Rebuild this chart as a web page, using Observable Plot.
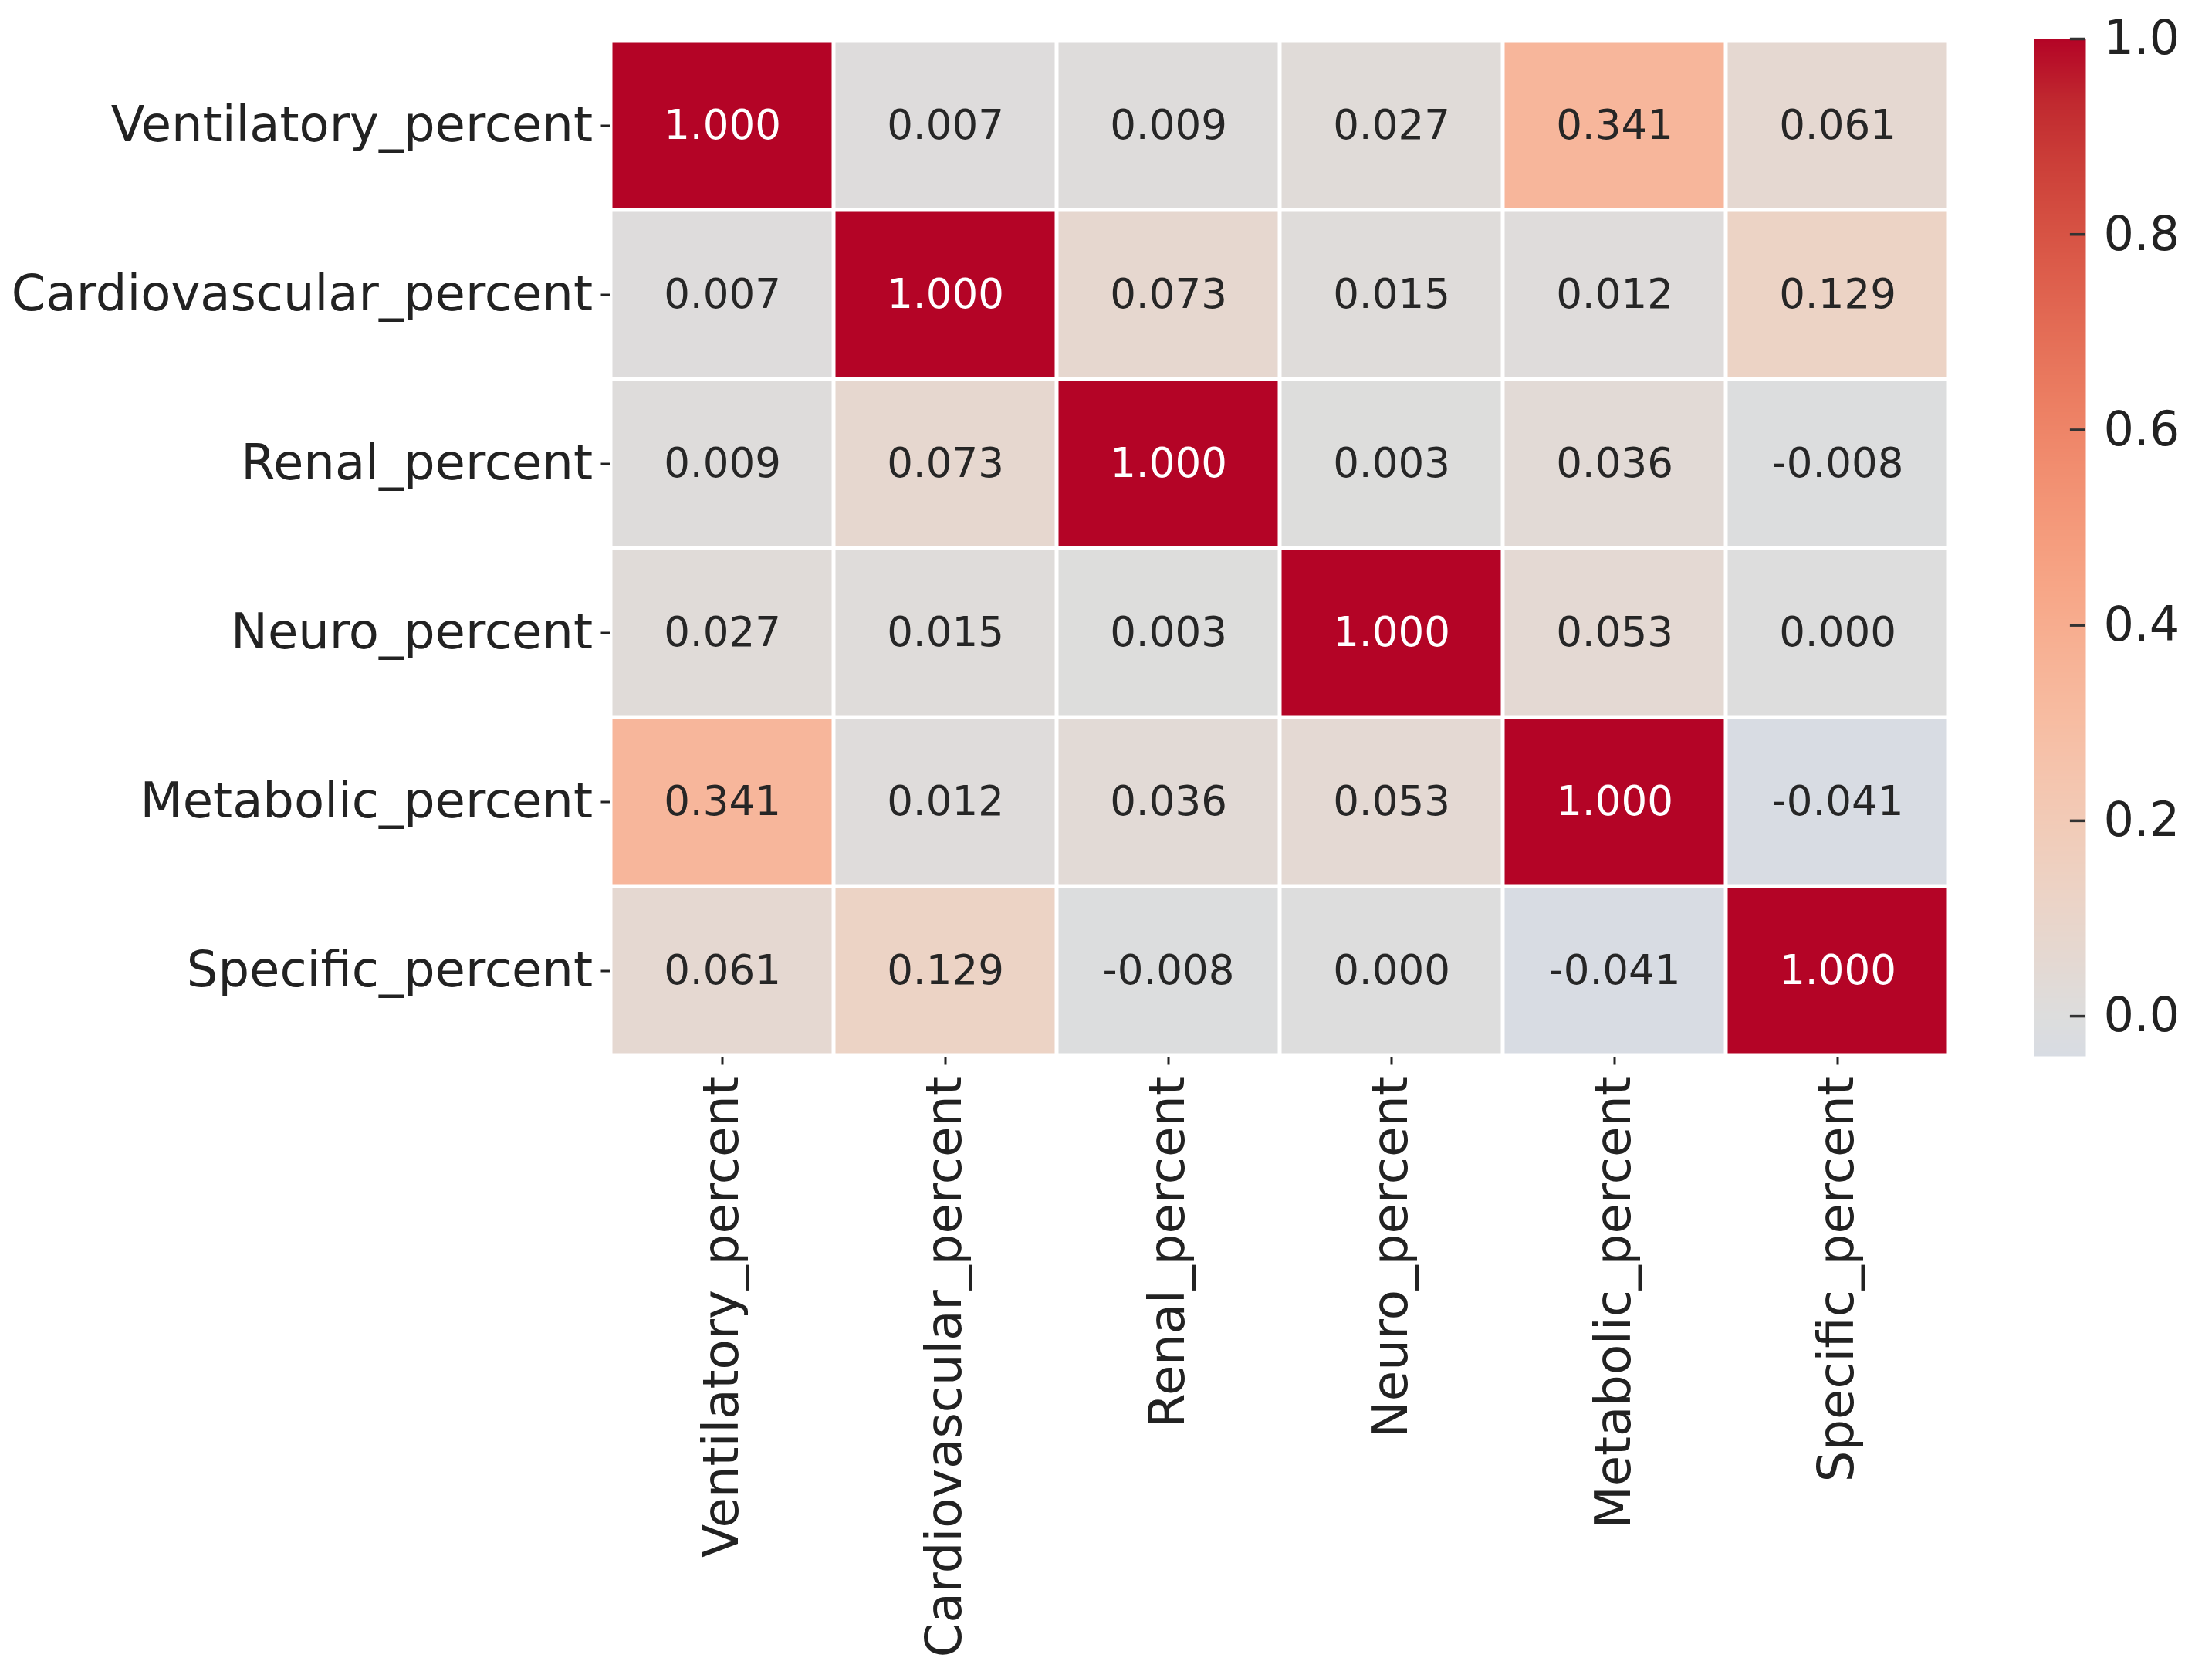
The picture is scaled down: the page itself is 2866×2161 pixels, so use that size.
<!DOCTYPE html>
<html>
<head>
<meta charset="utf-8">
<script src="https://cdn.jsdelivr.net/npm/d3@7"></script>
<script src="https://cdn.jsdelivr.net/npm/@observablehq/plot@0.6"></script>
<style>
html, body { margin: 0; padding: 0; background: #fff; }
#wrap { position: relative; width: 2866px; height: 2161px; overflow: hidden; background: #fff; }
#main { position: absolute; left: 0; top: 0; }
#bar { position: absolute; left: 2600px; top: 0; }
</style>
</head>
<body>
<div id="wrap"><div id="main"></div><div id="bar"></div></div>
<script>
// ---- data ----
const variables = [
  "Ventilatory_percent",
  "Cardiovascular_percent",
  "Renal_percent",
  "Neuro_percent",
  "Metabolic_percent",
  "Specific_percent"
];
const rowVentilatory    = [1.000, 0.007, 0.009, 0.027, 0.341, 0.061];
const rowCardiovascular = [0.007, 1.000, 0.073, 0.015, 0.012, 0.129];
const rowRenal          = [0.009, 0.073, 1.000, 0.003, 0.036, -0.008];
const rowNeuro          = [0.027, 0.015, 0.003, 1.000, 0.053, 0.000];
const rowMetabolic      = [0.341, 0.012, 0.036, 0.053, 1.000, -0.041];
const rowSpecific       = [0.061, 0.129, -0.008, 0.000, -0.041, 1.000];
const colorbarTicks = [0.0, 0.2, 0.4, 0.6, 0.8, 1.0];
const valueMin = -0.041;
const valueMax = 1.0;

// coolwarm colormap (upper half, centred at 0)
const coolwarmDomain = [-0.0625, 0, 0.0625, 0.125, 0.1875, 0.25, 0.3125, 0.375, 0.4375, 0.5,
  0.5625, 0.625, 0.6875, 0.75, 0.8125, 0.875, 0.9375, 1.0];
const coolwarmRange = [
  "rgb(213,219,230)", "rgb(221,221,221)", "rgb(229,216,209)", "rgb(236,211,198)",
  "rgb(241,204,185)", "rgb(245,196,173)", "rgb(247,187,160)", "rgb(247,177,148)",
  "rgb(247,166,135)", "rgb(244,154,123)", "rgb(241,141,111)", "rgb(236,127,99)",
  "rgb(229,112,88)", "rgb(222,96,77)", "rgb(213,80,66)", "rgb(203,62,56)",
  "rgb(192,40,47)", "rgb(180,4,38)"
];

const rows = [rowVentilatory, rowCardiovascular, rowRenal, rowNeuro, rowMetabolic, rowSpecific];
const cells = variables.flatMap((r, i) => rows[i].map((v, j) => ({row: r, col: variables[j], value: v})));

const colorScale = () => ({type: "linear", domain: coolwarmDomain, range: coolwarmRange, interpolate: "rgb", clamp: true});
const font = "DejaVu Sans";

const main = Plot.plot({
  width: 2600,
  height: 2161,
  marginLeft: 790.5,
  marginRight: 2600 - 2525.5,
  marginTop: 50.5,
  marginBottom: 2161 - 1369.5,
  style: {fontFamily: font, background: "white", color: "#222"},
  x: {domain: variables, padding: 0, axis: null},
  y: {domain: variables, padding: 0, axis: null},
  color: colorScale(),
  marks: [
    Plot.cell(cells, {x: "col", y: "row", fill: "value", inset: 2.5}),
    Plot.text(cells.filter(d => d.value <= 0.7), {x: "col", y: "row", text: d => d.value.toFixed(3), fill: "#262626", fontSize: 53}),
    Plot.text(cells.filter(d => d.value > 0.7), {x: "col", y: "row", text: d => d.value.toFixed(3), fill: "white", fontSize: 53}),
    Plot.axisX({anchor: "bottom", tickRotate: -90, tickSize: 10, tickPadding: 14, strokeWidth: 3, stroke: "#222", fontSize: 64, fill: "#222", label: null}),
    Plot.axisY({anchor: "left", tickSize: 12, tickPadding: 11, strokeWidth: 3, stroke: "#222", fontSize: 64, fill: "#222", label: null})
  ]
});
document.getElementById("main").appendChild(main);

const bar = Plot.plot({
  width: 266,
  height: 2161,
  marginLeft: 35,
  marginRight: 266 - 102,
  marginTop: 50,
  marginBottom: 2161 - 1368,
  style: {fontFamily: font, background: "white", color: "#222"},
  x: {domain: [0, 1], axis: null},
  y: {domain: [valueMin, valueMax], axis: null},
  color: colorScale(),
  marks: [
    Plot.raster({x1: 0, x2: 1, y1: valueMin, y2: valueMax, width: 1, height: 800, fill: (x, y) => y, imageRendering: "auto"}),
    Plot.ruleY(colorbarTicks, {x1: 0.7, x2: 1, stroke: "#333", strokeWidth: 3.5}),
    Plot.axisY(colorbarTicks, {anchor: "right", tickSize: 0, tickPadding: 23, tickFormat: d => d.toFixed(1), fontSize: 62, fill: "#222", label: null})
  ]
});
document.getElementById("bar").appendChild(bar);
</script>
</body>
</html>
